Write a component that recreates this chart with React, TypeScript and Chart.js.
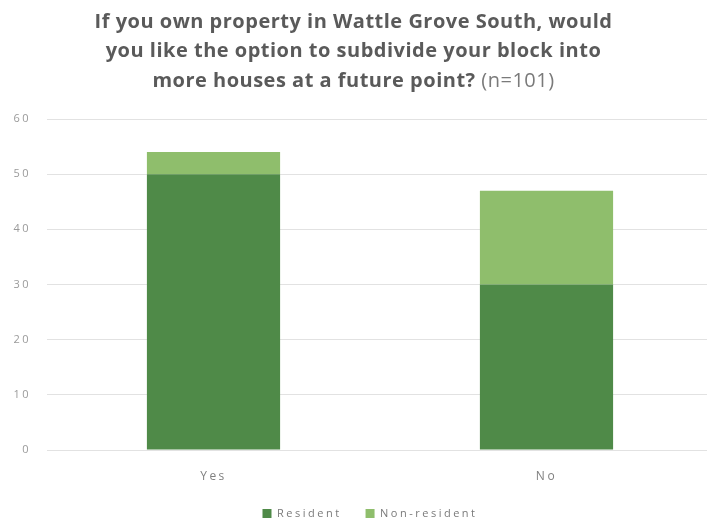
import React, { useEffect, useRef } from "react";
import { Chart, registerables } from "chart.js";

Chart.register(...registerables);

const categories = ["Yes", "No"];
const resident = [50, 30];
const nonResident = [4, 17];
const seriesNames = ["Resident", "Non-resident"];
const yMin = 0;
const yMax = 60;
const yStep = 10;
const titleLines = [
  "If you own property in Wattle Grove South, would",
  "you like the option to subdivide your block into",
  "more houses at a future point?",
];
const titleSuffix = " (n=101)";

const FONT = "'Open Sans', 'Noto Sans', sans-serif";
const SMALL_SPACING = "2.5px";
const VIEW_W = 707;
const CANVAS_W = 713;
const CANVAS_H = 521;

const spacingPlugin = {
  id: "spacing",
  beforeUpdate(chart: any) {
    (chart.ctx as any).letterSpacing = SMALL_SPACING;
  },
  afterLayout(chart: any) {
    const lg = chart.legend;
    if (lg) {
      const shift = 370 - (lg.left + lg.right) / 2;
      lg.left += shift;
      lg.right += shift;
    }
  },
  beforeDraw(chart: any) {
    (chart.ctx as any).letterSpacing = SMALL_SPACING;
  },
};

const titlePlugin = {
  id: "mixedTitle",
  afterDraw(chart: any) {
    const ctx = chart.ctx as CanvasRenderingContext2D;
    const cx = VIEW_W / 2;
    const ys = [22, 51, 81];
    ctx.save();
    (ctx as any).letterSpacing = "0.5px";
    ctx.textBaseline = "middle";
    ctx.fillStyle = "#5a5a5a";
    const bold = `bold 20px ${FONT}`;
    const normal = `normal 20px ${FONT}`;
    titleLines.forEach((line, i) => {
      if (i < titleLines.length - 1) {
        ctx.font = bold;
        ctx.textAlign = "center";
        ctx.fillText(line, cx, ys[i]);
      } else {
        ctx.font = bold;
        const w1 = ctx.measureText(line).width;
        ctx.font = normal;
        const w2 = ctx.measureText(titleSuffix).width;
        const start = cx - (w1 + w2) / 2;
        ctx.textAlign = "left";
        ctx.font = bold;
        ctx.fillStyle = "#5a5a5a";
        ctx.fillText(line, start, ys[i]);
        ctx.font = normal;
        ctx.fillStyle = "#7a7a7a";
        ctx.fillText(titleSuffix, start + w1, ys[i]);
      }
    });
    ctx.restore();
  },
};

export default function App() {
  const ref = useRef<HTMLCanvasElement | null>(null);
  useEffect(() => {
    document.body.style.margin = "0";
    const canvas = ref.current!;
    const chart = new Chart(canvas, {
      type: "bar",
      data: {
        labels: categories,
        datasets: [
          {
            label: seriesNames[0],
            data: resident,
            backgroundColor: "#4f8a48",
            barPercentage: 0.4,
            categoryPercentage: 1,
          },
          {
            label: seriesNames[1],
            data: nonResident,
            backgroundColor: "#8fbe6c",
            barPercentage: 0.4,
            categoryPercentage: 1,
          },
        ],
      },
      options: {
        animation: false,
        responsive: false,
        maintainAspectRatio: false,
        layout: { padding: { top: 119, right: 0, left: 0, bottom: -8 } },
        plugins: {
          title: { display: false },
          tooltip: { enabled: false },
          legend: {
            position: "bottom",
            labels: {
              boxWidth: 9,
              boxHeight: 9,
              padding: 24,
              color: "#7a7a7a",
              font: { family: FONT, size: 11 },
            },
          },
        },
        scales: {
          x: {
            stacked: true,
            grid: { display: false, drawTicks: false },
            border: { display: false },
            ticks: {
              color: "#808080",
              padding: 19,
              font: { family: FONT, size: 12 },
            },
            afterFit(scale: any) {
              scale.height = 34;
            },
          },
          y: {
            stacked: true,
            min: yMin,
            max: yMax,
            ticks: {
              stepSize: yStep,
              color: "#9a9a9a",
              padding: 16,
              font: { family: FONT, size: 11 },
            },
            grid: { color: "#e2e2e2", drawTicks: false },
            border: { display: false },
            afterFit(scale: any) {
              scale.width = 47;
            },
          },
        },
      },
      plugins: [spacingPlugin, titlePlugin],
    });
    return () => chart.destroy();
  }, []);
  return (
    <div style={{ width: VIEW_W, height: CANVAS_H, background: "#fff", overflow: "hidden" }}>
      <canvas ref={ref} width={CANVAS_W} height={CANVAS_H} style={{ display: "block" }} />
    </div>
  );
}
